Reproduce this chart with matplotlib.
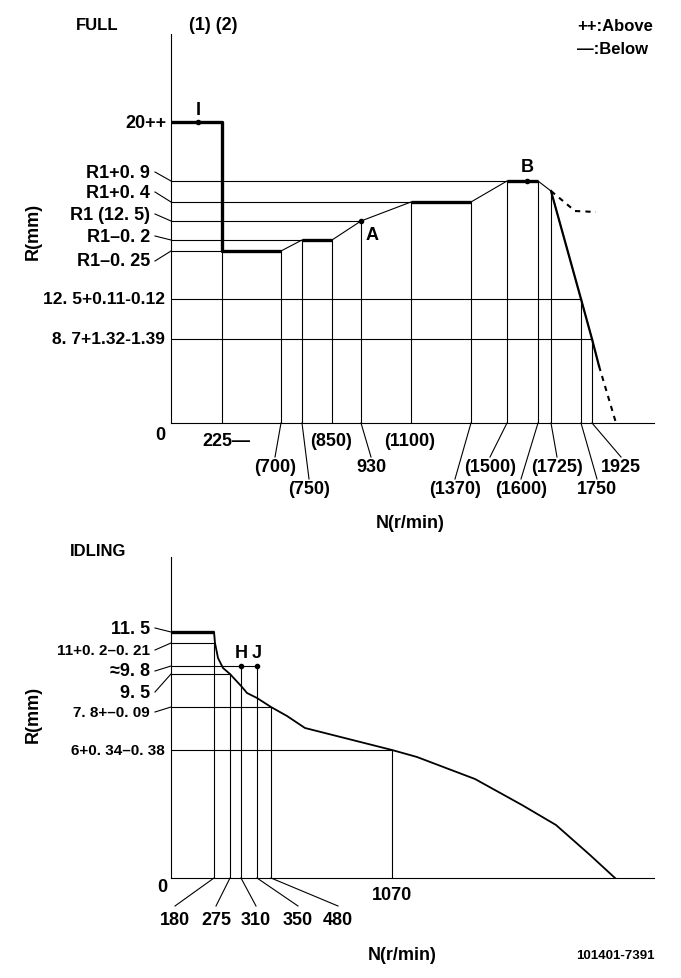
import matplotlib
matplotlib.use('Agg')
import matplotlib.pyplot as plt

plt.rcParams['font.family'] = ['Liberation Sans', 'DejaVu Sans']
plt.rcParams['font.weight'] = 'bold'

# ---- FULL chart (schematic units of the drawing) ----
full_rpm = ['225—', '(700)', '(750)', '(850)', '930', '(1100)', '(1370)',
            '(1500)', '(1600)', '(1725)', '1750', '1925']
full_x = [51, 110, 131, 161, 190, 240, 300, 336, 367, 380, 410, 421]
full_vert_top = [301, 172, 183, 183, 202, 221, 221, 242, 242, 232, 124, 84]
full_rpm_pos = [(55, -17), (104, -43), (138, -65), (160, -17), (200, -43), (239, -17),
                (284, -65), (319, -43), (350, -65), (386, -43), (426, -65), (450, -43)]

full_r_labels = ['20++', 'R1+0. 9', 'R1+0. 4', 'R1 (12. 5)', 'R1–0. 2', 'R1–0. 25',
                 '12. 5+0.11-0.12', '8. 7+1.32-1.39']
full_r = [301, 242, 221, 202, 183, 172, 124, 84]
full_r_end = [0, 336, 240, 190, 131, 51, 410, 421]
full_r_text_y = [301, 251, 231, 209, 187, 162, 124, 84]

full_curve_x = [0, 51, 51, 110, 131, 161, 190, 240, 300, 336, 367, 380, 410, 421, 428, 445]
full_curve_r = [301, 301, 172, 172, 183, 183, 202, 221, 221, 242, 242, 232, 124, 84, 57, 0]
full_thick = [(0, 4), (4, 6), (7, 9), (9, 11)]
full_upper_x = [380, 386, 404, 425]
full_upper_r = [232, 227, 212, 211]

# ---- IDLING chart ----
idl_rpm = ['180', '275', '310', '350', '480', '1070']
idl_x = [43, 59, 70, 86, 100, 221]
idl_vert_top = [246, 204, 212, 212, 171, 128]
idl_rpm_pos = [(4, -42), (45, -42), (85, -42), (127, -42), (167, -42), (221, -16)]

idl_r_labels = ['11. 5', '11+0. 2–0. 21', '≈9. 8', '9. 5', '7. 8+–0. 09', '6+0. 34–0. 38']
idl_r = [246, 235, 212, 204, 171, 128]
idl_r_end = [0, 43, 86, 59, 100, 221]
idl_r_text_y = [250, 228, 207, 186, 166, 128]

idl_curve_x = [0, 43, 44, 47, 52, 59, 71, 76, 86, 100, 116, 134, 221, 246, 304, 351, 385, 419, 444]
idl_curve_r = [246, 246, 235, 220, 210, 204, 191, 185, 180, 171, 162, 150, 128, 121, 99, 73, 53, 23, 0]

fig = plt.figure(figsize=(6.81, 9.79), dpi=100)
W, H = 681, 979
ax1 = fig.add_axes([171 / W, 1 - 424 / H, 483 / W, 389 / H])
ax2 = fig.add_axes([171 / W, 1 - 879 / H, 483 / W, 321 / H])

thin = 0.8
fs = 13
fs_head = 12
fs_tol = 11
for ax, top in ((ax1, 389), (ax2, 321)):
    ax.set_xlim(0, 483)
    ax.set_ylim(0, top)
    for s in ('top', 'right'):
        ax.spines[s].set_visible(False)
    for s in ('left', 'bottom'):
        ax.spines[s].set_linewidth(thin)
    ax.set_xticks([])
    ax.set_yticks([])
    ax.patch.set_alpha(0)

# FULL: grid of reference lines
for x, t in zip(full_x, full_vert_top):
    ax1.plot([x, x], [0, t], color='black', lw=thin)
for r, e in zip(full_r[1:], full_r_end[1:]):
    ax1.plot([0, e], [r, r], color='black', lw=thin)

# FULL: governor line
ax1.plot(full_curve_x[:-1], full_curve_r[:-1], color='black', lw=thin)
for a, b in full_thick:
    ax1.plot(full_curve_x[a:b], full_curve_r[a:b], color='black', lw=2.4,
             solid_capstyle='butt')
ax1.plot(full_curve_x[11:15], full_curve_r[11:15], color='black', lw=1.6)
ax1.plot(full_curve_x[-2:], full_curve_r[-2:], color='black', lw=1.5, dashes=(2.5, 2.5))
ax1.plot(full_upper_x, full_upper_r, color='black', lw=1.5, dashes=(2.5, 2.5))

# points I, A, B
ax1.plot([27, 190, 356], [301, 202, 242], 'o', color='black', ms=3)
ax1.text(27, 314, 'I', ha='center', va='center', fontsize=fs)
ax1.text(201, 188, 'A', ha='center', va='center', fontsize=fs)
ax1.text(356, 257, 'B', ha='center', va='center', fontsize=fs)

# FULL: y labels
for i, (lab, r, ty) in enumerate(zip(full_r_labels, full_r, full_r_text_y)):
    if i == 0:
        ax1.text(-4, ty, lab, ha='right', va='center', fontsize=fs, clip_on=False)
    elif i >= 6:
        ax1.text(-6, ty, lab, ha='right', va='center', fontsize=12.5, clip_on=False)
    else:
        ax1.text(-21, ty, lab, ha='right', va='center', fontsize=fs, clip_on=False)
        ax1.plot([-16, 0], [ty, r], color='black', lw=thin, clip_on=False)

# FULL: x labels
for lab, x, (tx, ty) in zip(full_rpm, full_x, full_rpm_pos):
    ax1.text(tx, ty, lab, ha='center', va='center', fontsize=fs, clip_on=False)
    if ty < -20:
        ax1.plot([x, tx], [0, ty + 9], color='black', lw=thin, clip_on=False)

ax1.text(-11, -11, '0', ha='center', va='center', fontsize=fs, clip_on=False)
ax1.text(239, -100, 'N(r/min)', ha='center', va='center', fontsize=fs, clip_on=False)
ax1.text(-138, 193, 'R(mm)', ha='center', va='center', fontsize=fs, rotation=90, clip_on=False)
ax1.text(-74, 399, 'FULL', ha='center', va='center', fontsize=fs_head, clip_on=False)
ax1.text(42, 399, '(1) (2)', ha='center', va='center', fontsize=fs, clip_on=False)
ax1.text(406, 398, '++:Above', ha='left', va='center', fontsize=fs_head, clip_on=False)
ax1.text(406, 375, '—:Below', ha='left', va='center', fontsize=fs_head, clip_on=False)

# IDLING: reference lines
for x, t in zip(idl_x, idl_vert_top):
    ax2.plot([x, x], [0, t], color='black', lw=thin)
for r, e in zip(idl_r[1:], idl_r_end[1:]):
    ax2.plot([0, e], [r, r], color='black', lw=thin)

ax2.plot(idl_curve_x, idl_curve_r, color='black', lw=1.3)
ax2.plot(idl_curve_x[:2], idl_curve_r[:2], color='black', lw=2.4, solid_capstyle='butt')

ax2.plot([70, 86], [212, 212], 'o', color='black', ms=3)
ax2.text(70, 226, 'H', ha='center', va='center', fontsize=fs)
ax2.text(86, 226, 'J', ha='center', va='center', fontsize=fs)

for i, (lab, r, ty) in enumerate(zip(idl_r_labels, idl_r, idl_r_text_y)):
    if i == len(idl_r_labels) - 1:
        ax2.text(-6, ty, lab, ha='right', va='center', fontsize=fs_tol, clip_on=False)
    elif i in (1, 4):
        ax2.text(-21, ty, lab, ha='right', va='center', fontsize=fs_tol, clip_on=False)
        ax2.plot([-16, 0], [ty, r], color='black', lw=thin, clip_on=False)
    else:
        ax2.text(-21, ty, lab, ha='right', va='center', fontsize=fs, clip_on=False)
        ax2.plot([-16, 0], [ty, r], color='black', lw=thin, clip_on=False)

for lab, x, (tx, ty) in zip(idl_rpm, idl_x, idl_rpm_pos):
    ax2.text(tx, ty, lab, ha='center', va='center', fontsize=fs, clip_on=False)
    if ty < -20:
        ax2.plot([x, tx], [0, ty + 14], color='black', lw=thin, clip_on=False)

ax2.text(-9, -9, '0', ha='center', va='center', fontsize=fs, clip_on=False)
ax2.text(231, -77, 'N(r/min)', ha='center', va='center', fontsize=fs, clip_on=False)
ax2.text(444, -77, '101401-7391', ha='center', va='center', fontsize=9.5, clip_on=False)
ax2.text(-138, 165, 'R(mm)', ha='center', va='center', fontsize=fs, rotation=90, clip_on=False)
ax2.text(-73, 327, 'IDLING', ha='center', va='center', fontsize=fs_head, clip_on=False)

fig.savefig('out.png', dpi=100)
